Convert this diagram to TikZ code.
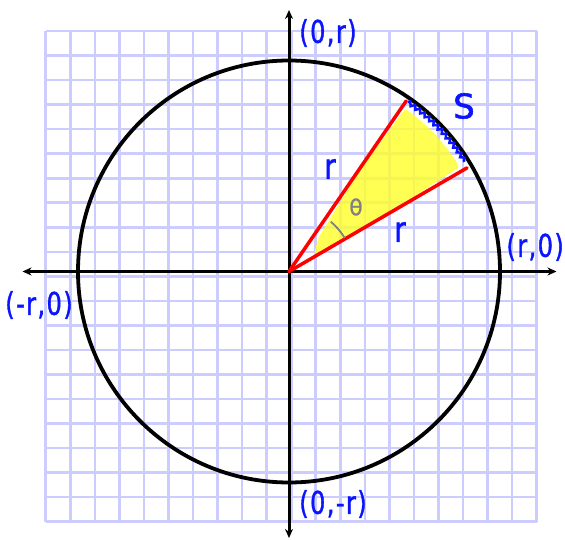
\documentclass[tikz,border=0pt]{standalone}
\usepackage{fontspec}
\setmainfont{DejaVu Sans}
\usetikzlibrary{arrows.meta,decorations.pathmorphing}
\definecolor{gridc}{RGB}{204,204,255}
\definecolor{hand}{RGB}{10,20,255}
\definecolor{hilite}{RGB}{255,255,40}
\begin{document}
\begin{tikzpicture}[x=1pt,y=1pt,
  gridline/.style={gridc, line width=2.6pt},
  axis/.style={black, line width=3pt, {Stealth[length=9pt,width=8pt]}-{Stealth[length=9pt,width=8pt]}},
  radius line/.style={red, line width=3.5pt, line cap=round},
  lab/.style={text=hand, font=\fontsize{24}{24}\selectfont\addfontfeature{LetterSpace=6,FakeBold=1.5}, inner sep=0pt},
  biglab/.style={text=hand, font=\fontsize{28}{28}\selectfont\addfontfeature{FakeBold=1.5}, inner sep=0pt}]
\useasboundingbox (0,0) rectangle (565,539);
% grid
\foreach \i in {0,...,20}{
  \draw[gridline] (45.7+\i*24.55,17.3) -- (45.7+\i*24.55,508);
  \draw[gridline] (45.7,17.3+\i*24.535) -- (536.7,17.3+\i*24.535);
}
\coordinate (O) at (289,267.5);
\coordinate (L) at (22.5,267.5);
\coordinate (R) at (556.5,267.5);
\coordinate (T) at (289,529);
\coordinate (B) at (289,1);
% yellow highlight
\fill[hilite, opacity=0.8, rounded corners=3pt]
  ([shift={(34:30)}]O) -- ([shift={(49:45)}]O) -- ([shift={(55:120)}]O) -- ([shift={(54.5:200)}]O)
  arc[start angle=54.5, end angle=31.5, radius=200] -- ([shift={(30.5:120)}]O) -- cycle;
% circle and axes
\draw[black, line width=3.8pt] (O) circle[radius=211];
\draw[axis] (L) -- (R);
\draw[axis] (B) -- (T);
% radii
\coordinate (P1) at ([shift={(55.5:207)}]O);
\coordinate (P2) at ([shift={(30.2:206)}]O);
\draw[radius line] (O) -- (P1);
\draw[radius line] (O) -- (P2);
% arc s
\draw[hand, line width=2.5pt, decorate, decoration={snake, amplitude=1.8pt, segment length=6pt}]
  ([shift={(55:207)}]O) arc[start angle=55, end angle=32, radius=207];
% theta arc
\draw[gray, line width=1.8pt] ([shift={(50:65)}]O) arc[start angle=50, end angle=31, radius=65];
% labels
\node[lab] (n1) at (328,506) {\scalebox{1}[1.3]{(0,r)}};
\node[lab] (n2) at (333,35) {\scalebox{1}[1.3]{(0,-r)}};
\node[lab] (n3) at (39,234) {\scalebox{1}[1.3]{(-r,0)}};
\node[lab, anchor=east] (n4) at (564,292) {\scalebox{1}[1.3]{(r,0)}};
\node[biglab, font=\fontsize{34}{34}\selectfont\addfontfeature{FakeBold=1.5}] (s) at (464,433) {S};
\node[biglab] (r1) at (330,370) {\scalebox{1}[1.25]{r}};
\node[biglab] (r2) at (400,307) {\scalebox{1}[1.25]{r}};
\node[text=gray, font=\fontsize{22}{22}\selectfont\addfontfeature{FakeBold=1}, inner sep=0pt] (th) at (356,332) {θ};
\end{tikzpicture}
\end{document}
